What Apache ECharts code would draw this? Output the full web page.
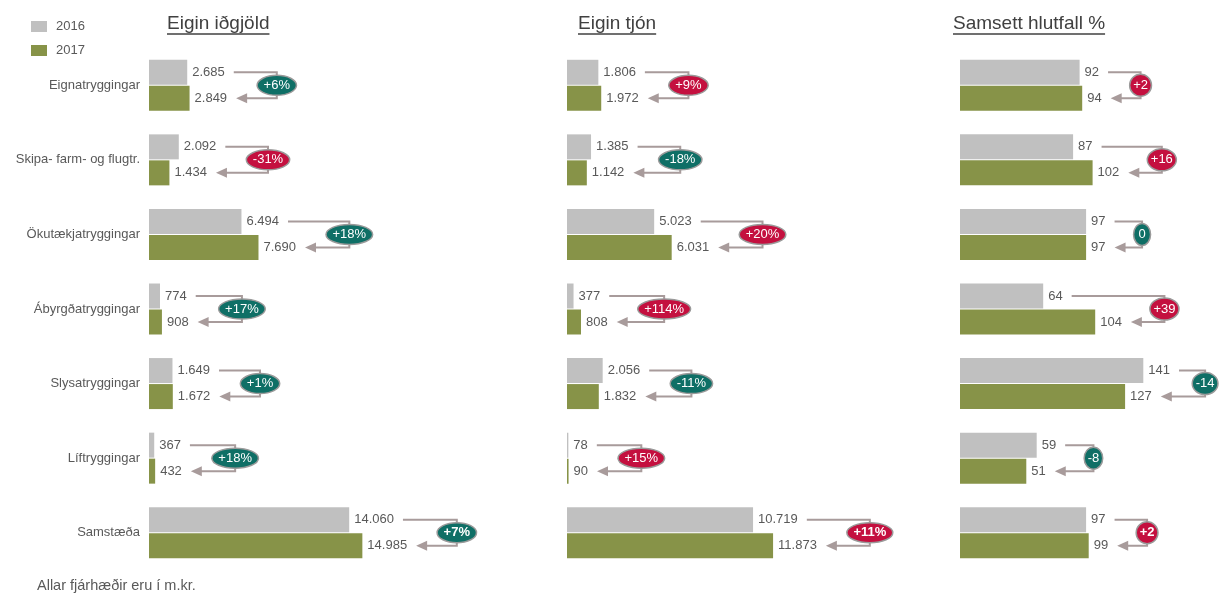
<!DOCTYPE html>
<html>
<head>
<meta charset="utf-8">
<script src="https://cdn.jsdelivr.net/npm/echarts@6/dist/echarts.min.js"></script>
<style>
  html, body { margin: 0; padding: 0; background: #fff; }
  #chart { width: 1222px; height: 595px; }
</style>
</head>
<body>
<div id="chart"></div>
<script>
const categories = ['Eignatryggingar', 'Skipa- farm- og flugtr.', 'Ökutækjatryggingar', 'Ábyrgðatryggingar', 'Slysatryggingar', 'Líftryggingar', 'Samstæða']

// Eigin iðgjöld
const premiums2016 = [2685, 2092, 6494, 774, 1649, 367, 14060]
const premiums2017 = [2849, 1434, 7690, 908, 1672, 432, 14985]
const premiumsChange = [6, -31, 18, 17, 1, 18, 7]

// Eigin tjón
const claims2016 = [1806, 1385, 5023, 377, 2056, 78, 10719]
const claims2017 = [1972, 1142, 6031, 808, 1832, 90, 11873]
const claimsChange = [9, -18, 20, 114, -11, 15, 11]

// Samsett hlutfall %
const ratio2016 = [92, 87, 97, 64, 141, 59, 97]
const ratio2017 = [94, 102, 97, 104, 127, 51, 99]
const ratioChange = [2, 16, 0, 39, -14, -8, 2]

const FONT = '"Liberation Sans", Arial, sans-serif'
const textColor = '#595959'
const lineColor = '#a89b9b'
const teal = '#0f6f66'
const red = '#c4103f'

const ctx = document.createElement('canvas').getContext('2d')
const measure = (txt, font) => {
    ctx.font = font
    return ctx.measureText(txt).width
}

// íslensk framsetning: punktur sem þúsundaskil
const fmt = (v) => String(v).replace(/\B(?=(\d{3})+(?!\d))/g, '.')

const panels = [
    { title: 'Eigin iðgjöld', titleLeft: 167, left: 149, width: 299, max: 21000, v16: premiums2016, v17: premiums2017, chg: premiumsChange, pct: true, upGood: true, gap: 30 },
    { title: 'Eigin tjón', titleLeft: 578, left: 567, width: 243, max: 14000, v16: claims2016, v17: claims2017, chg: claimsChange, pct: true, upGood: false, gap: 30 },
    { title: 'Samsett hlutfall %', titleLeft: 953, left: 960, width: 234, max: 180, v16: ratio2016, v17: ratio2017, chg: ratioChange, pct: false, upGood: false, gap: 28 }
]

const labelFont = '13px ' + FONT

const makeRender = (p) => (params, api) => {
    const k = api.value(0)
    const v16 = api.value(1)
    const v17 = api.value(2)
    const chg = api.value(3)
    const cy = api.coord([0, k])[1]
    const y16 = cy - 13
    const y17 = cy + 13
    const e16 = api.coord([v16, k])[0] + 5 + measure(fmt(v16), labelFont)
    const e17 = api.coord([v17, k])[0] + 5 + measure(fmt(v17), labelFont)

    const last = k === categories.length - 1
    const badgeFont = (last ? 'bold ' : '') + '13px ' + FONT
    const txt = (chg > 0 ? '+' : '') + chg + (p.pct ? '%' : '')
    const tw = measure(txt, badgeFont)
    const bw = Math.max(tw + (p.pct ? 13 : 7), 17)
    const bh = p.pct ? 20 : 22
    // merkið má ekki fara út fyrir myndina
    const vx = Math.min(Math.max(e16, e17) + bw / 2 + p.gap, api.getWidth() - bw / 2 - 4)

    const good = chg === 0 || (chg > 0) === p.upGood
    return {
        type: 'group',
        children: [
            {
                type: 'polyline',
                shape: { points: [[e16 + 9, y16], [vx, y16], [vx, y17], [e17 + 17, y17]] },
                style: { stroke: lineColor, lineWidth: 2, fill: null }
            },
            {
                type: 'polygon',
                shape: { points: [[e17 + 9, y17], [e17 + 20, y17 - 5], [e17 + 20, y17 + 5]] },
                style: { fill: lineColor }
            },
            {
                type: 'ellipse',
                shape: { cx: vx, cy: cy, rx: bw / 2, ry: bh / 2 },
                style: { fill: good ? teal : red, stroke: '#9a9a9a', lineWidth: 1.5 }
            },
            {
                type: 'text',
                x: vx,
                y: cy,
                style: { text: txt, fill: '#fff', font: badgeFont, align: 'center', verticalAlign: 'middle' }
            }
        ]
    }
}

const series = []
panels.forEach((p, i) => {
    const barLabel = {
        show: true,
        position: 'right',
        distance: 5,
        color: textColor,
        fontSize: 13,
        fontFamily: FONT,
        formatter: (d) => fmt(d.value)
    }
    series.push({
        type: 'bar', name: '2016', xAxisIndex: i, yAxisIndex: i,
        data: p.v16, barWidth: 25, barGap: '4%',
        itemStyle: { color: '#c0c0c0' },
        label: barLabel
    })
    series.push({
        type: 'bar', name: '2017', xAxisIndex: i, yAxisIndex: i,
        data: p.v17, barWidth: 25, barGap: '4%',
        itemStyle: { color: '#879348' },
        label: barLabel
    })
    series.push({
        type: 'custom', xAxisIndex: i, yAxisIndex: i, z: 5,
        data: categories.map((c, k) => [k, p.v16[k], p.v17[k], p.chg[k]]),
        encode: { x: [1, 2], y: 0 },
        renderItem: makeRender(p)
    })
})

const titleFont = '19px ' + FONT
const graphic = []
panels.forEach((p) => {
    const w = measure(p.title, titleFont)
    graphic.push({
        type: 'text', left: p.titleLeft, top: 14,
        style: { text: p.title, font: titleFont, fill: '#404040' }
    })
    graphic.push({
        type: 'line', shape: { x1: p.titleLeft, y1: 34, x2: p.titleLeft + w, y2: 34 },
        style: { stroke: '#404040', lineWidth: 1.5 }
    })
})
graphic.push({
    type: 'text', left: 37, top: 578,
    style: { text: 'Allar fjárhæðir eru í m.kr.', font: '14.5px ' + FONT, fill: textColor }
})

const chart = echarts.init(document.getElementById('chart'), null, { renderer: 'canvas' })

const option = {
    animation: false,
    legend: {
        data: ['2016', '2017'],
        orient: 'vertical',
        left: 31,
        top: 20,
        padding: 0,
        itemWidth: 16,
        itemHeight: 11,
        itemGap: 11,
        icon: 'rect',
        textStyle: { color: textColor, fontSize: 13, fontFamily: FONT, padding: [0, 0, 0, 4] }
    },
    grid: panels.map((p) => ({ left: p.left, top: 48, width: p.width, height: 522 })),
    xAxis: panels.map((p, i) => ({ type: 'value', gridIndex: i, min: 0, max: p.max, show: false })),
    yAxis: panels.map((p, i) => ({
        type: 'category',
        gridIndex: i,
        data: categories,
        inverse: true,
        axisLine: { show: false },
        axisTick: { show: false },
        splitLine: { show: false },
        axisLabel: { show: i === 0, margin: 9, color: textColor, fontSize: 13, fontFamily: FONT }
    })),
    graphic: graphic,
    series: series
}

chart.setOption(option)

window.addEventListener('resize', () => {
    chart.resize()
})
</script>
</body>
</html>
